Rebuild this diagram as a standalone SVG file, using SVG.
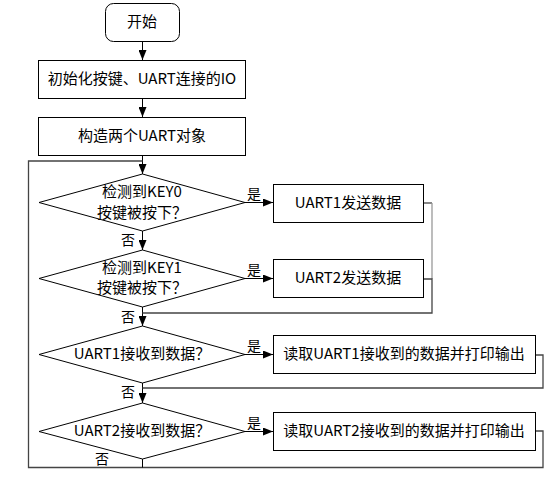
<svg xmlns="http://www.w3.org/2000/svg" width="556" height="480" viewBox="0 0 556 480">
<style>
.n{fill:#fff;stroke:#000;stroke-width:1}
.t{font-family:"Noto Sans CJK SC","Noto Sans",sans-serif;font-size:15px;fill:#000;text-anchor:middle}
.l{font-family:"Noto Sans CJK SC","Noto Sans",sans-serif;font-size:14px;fill:#000;text-anchor:middle}
.c{fill:none;stroke:#000;stroke-width:1}
.r{fill:none;stroke:#444;stroke-width:1.3}
.g{fill:none;stroke:#999;stroke-width:1.3}
</style>
<defs>
<marker id="ah" markerWidth="10" markerHeight="8" refX="10" refY="4" orient="auto" markerUnits="userSpaceOnUse">
<path d="M0,0 L10,4 L0,8 z" fill="#000"/>
</marker>
</defs>
<rect width="556" height="480" fill="#fff"/>
<g id="connectors">
<path class="c" d="M142.5,41 V60" marker-end="url(#ah)"/>
<path class="c" d="M142.5,98 V117" marker-end="url(#ah)"/>
<path class="c" d="M142.5,155 V174" marker-end="url(#ah)"/>
<path class="c" d="M142.5,231 V250" marker-end="url(#ah)"/>
<path class="c" d="M142.5,307 V326" marker-end="url(#ah)"/>
<path class="c" d="M142.5,383 V403" marker-end="url(#ah)"/>
<path class="c" d="M245,202.5 H273" marker-end="url(#ah)"/>
<path class="c" d="M245,278.5 H273" marker-end="url(#ah)"/>
<path class="c" d="M245,354.5 H273" marker-end="url(#ah)"/>
<path class="c" d="M245,431.5 H273" marker-end="url(#ah)"/>
<path class="r" d="M423,203 H432"/>
<path class="g" d="M432,203 V279"/>
<path class="r" d="M423,279 H432 V313 H142.5"/>
<path class="r" d="M535,355 H543 V388 H142.5"/>
<path class="r" d="M535,431 H543 V467.5 H28.5 V161 H142.5"/>
<path class="c" d="M142.5,459 V467.5"/>
<text class="l" x="254" y="199">是</text>
<text class="l" x="254" y="275">是</text>
<text class="l" x="254" y="351">是</text>
<text class="l" x="254" y="428">是</text>
<text class="l" x="128" y="245">否</text>
<text class="l" x="128" y="322">否</text>
<text class="l" x="128" y="397">否</text>
<text class="l" x="102" y="464">否</text>
</g>
<g id="start">
<rect class="n" x="105.5" y="3.5" width="74" height="38" rx="8"/>
<text class="t" x="142" y="27">开始</text>
</g>
<g id="init">
<rect class="n" x="38.5" y="60.5" width="207" height="38"/>
<text class="t" x="142" y="84">初始化按键、UART连接的IO</text>
</g>
<g id="construct">
<rect class="n" x="38.5" y="117.5" width="207" height="38"/>
<text class="t" x="142" y="141">构造两个UART对象</text>
</g>
<g id="key0">
<polygon class="n" points="142.5,174 245,202.5 142.5,231 39,202.5"/>
<text class="t" x="142" y="197">检测到KEY0</text>
<text class="t" x="142" y="218">按键被按下？</text>
</g>
<g id="key1">
<polygon class="n" points="142.5,250 245,278.5 142.5,307 39,278.5"/>
<text class="t" x="142" y="273">检测到KEY1</text>
<text class="t" x="142" y="293">按键被按下？</text>
</g>
<g id="uart1rx">
<polygon class="n" points="142.5,326 245,354.5 142.5,383 39,354.5"/>
<text class="t" x="142" y="359">UART1接收到数据？</text>
</g>
<g id="uart2rx">
<polygon class="n" points="142.5,403 245,431.5 142.5,459 39,431.5"/>
<text class="t" x="142" y="436">UART2接收到数据？</text>
</g>
<g id="uart1send">
<rect class="n" x="273.5" y="184.5" width="150" height="38"/>
<text class="t" x="348" y="208">UART1发送数据</text>
</g>
<g id="uart2send">
<rect class="n" x="273.5" y="259.5" width="150" height="38"/>
<text class="t" x="348" y="283">UART2发送数据</text>
</g>
<g id="uart1read">
<rect class="n" x="273.5" y="335.5" width="262" height="38"/>
<text class="t" x="404" y="359">读取UART1接收到的数据并打印输出</text>
</g>
<g id="uart2read">
<rect class="n" x="273.5" y="412.5" width="262" height="38"/>
<text class="t" x="404" y="436">读取UART2接收到的数据并打印输出</text>
</g>
</svg>
